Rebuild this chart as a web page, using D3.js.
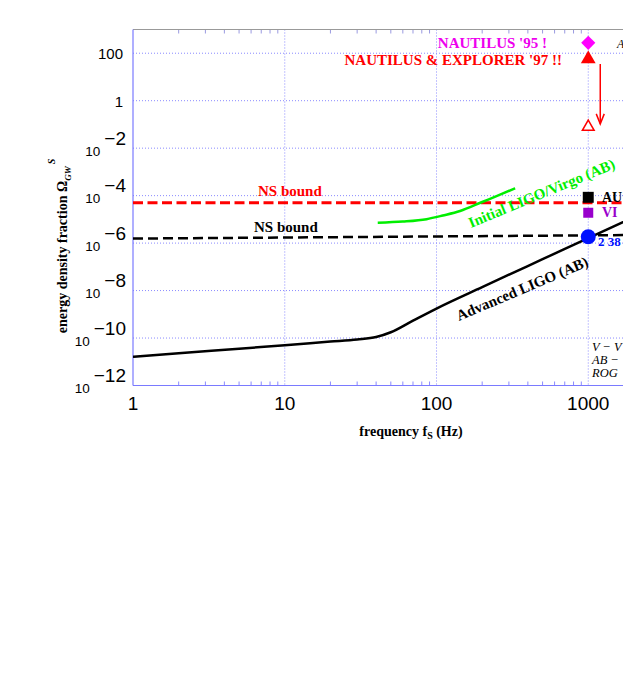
<!DOCTYPE html>
<html><head><meta charset="utf-8">
<script src="https://cdn.jsdelivr.net/npm/d3@7"></script>
<style>body{margin:0;background:#fff;overflow:hidden}svg{display:block}</style>
</head><body><svg id="c" width="623" height="692"></svg>
<script>
// ---- data ----
const xTicks = [1, 10, 100, 1000];
const xTickLabels = ["1", "10", "100", "1000"];
const xGrid = [10, 100, 1000, 10000];
const xMinorTicks = [2,3,4,5,6,7,8,9,20,30,40,50,60,70,80,90,200,300,400,500,600,700,800,900,2000,3000,4000,5000,6000,7000,8000,9000];
const yTicks = [1e2, 1, 1e-2, 1e-4, 1e-6, 1e-8, 1e-10, 1e-12];
const yTickBase = ["100", "1", "10", "10", "10", "10", "10", "10"];
const yTickExp = ["", "", "−2", "−4", "−6", "−8", "−10", "−12"];

const advFreq  = [1, 2, 5, 10, 20, 30, 40, 50, 70, 100, 200, 500, 1000, 2000];
const advOmega = [1.62e-11, 2.3e-11, 3.55e-11, 5.0e-11, 7.1e-11, 8.7e-11, 1.1e-10, 1.75e-10, 5.4e-10, 1.75e-9, 1.4e-8, 2.1e-7, 1.62e-6, 1.26e-5];

const iniFreq  = [41, 60, 86, 110, 143, 200, 260, 330];
const iniOmega = [7.2e-6, 8.1e-6, 1.02e-5, 1.45e-5, 2.24e-5, 5.4e-5, 1.07e-4, 2.04e-4];

const nsRedFreq = [1, 10000];
const nsRedOmega = [5.0e-5, 5.0e-5];
const nsBlackFreq = [1, 10000];
const nsBlackOmega = [1.55e-6, 2.35e-6];

const expLabels = ["NAUTILUS '95 !", "NAUTILUS & EXPLORER '97 !!", "", "AU", "VI", "2 38"];
const expFreq  = [1000, 1000, 1000, 1000, 1000, 1000];
const expOmega = [275, 57, 0.079, 8.5e-5, 1.9e-5, 1.86e-6];

const legendLines = ["V − V", "AB −", "ROG"];

// ---- scales ----
const svg = d3.select("#c");
const L = 133, T = 29.5, B = 385.5;
const x = d3.scaleLog().domain([1, 1e4]).range([L, L + 4 * 151.75]);
const y = d3.scaleLog().domain([1e-12, 1e3]).range([B, T]);
const R = x(1e4);

svg.append("rect").attr("width", 623).attr("height", 692).attr("fill", "#fff");

const serif = "'Liberation Serif','Times New Roman',serif";
const sans = "'Liberation Sans',Arial,Helvetica,sans-serif";
const gridCol = "#8a8aff";

// grid
svg.append("g").selectAll("line").data(yTicks.slice(0, -1)).join("line")
  .attr("x1", L).attr("x2", R).attr("y1", d => y(d)).attr("y2", d => y(d))
  .attr("stroke", gridCol).attr("stroke-width", 1).attr("stroke-dasharray", "1,2");
svg.append("g").selectAll("line").data(xGrid).join("line")
  .attr("y1", T).attr("y2", B).attr("x1", d => x(d)).attr("x2", d => x(d))
  .attr("stroke", gridCol).attr("stroke-width", 1).attr("stroke-dasharray", "1,2");

// minor ticks
svg.append("g").selectAll("line").data(xMinorTicks).join("line")
  .attr("x1", d => x(d)).attr("x2", d => x(d)).attr("y1", B).attr("y2", B - 4)
  .attr("stroke", "#8a8aff").attr("stroke-width", 1);
svg.append("g").selectAll("line").data(xMinorTicks).join("line")
  .attr("x1", d => x(d)).attr("x2", d => x(d)).attr("y1", T).attr("y2", T + 4)
  .attr("stroke", "#9a9ae0").attr("stroke-width", 1);

// frame
svg.append("line").attr("x1", L).attr("x2", R).attr("y1", T).attr("y2", T).attr("stroke", "#999").attr("stroke-width", 1.2);
svg.append("line").attr("x1", L).attr("x2", R).attr("y1", B).attr("y2", B).attr("stroke", "#7a7aff").attr("stroke-width", 1.2);
svg.append("line").attr("x1", L).attr("x2", L).attr("y1", T).attr("y2", B).attr("stroke", "#7a7aff").attr("stroke-width", 1.2);

// x tick labels
svg.append("g").selectAll("text").data(xTicks).join("text")
  .attr("x", d => x(d)).attr("y", 410).attr("text-anchor", "middle")
  .attr("font-family", sans).attr("font-size", 19).attr("fill", "#000")
  .text((d, i) => xTickLabels[i]);

// y tick labels
const yl = svg.append("g").selectAll("text").data(yTicks).join("text")
  .attr("text-anchor", "end").attr("font-family", sans).attr("fill", "#000")
  .attr("x", (d, i) => yTickExp[i] ? 126 : 123)
  .attr("y", (d, i) => yTickExp[i] ? y(d) + 7.5 : y(d) + 6)
  .attr("font-size", (d, i) => yTickExp[i] ? 13.5 : 15);
yl.append("tspan").text((d, i) => yTickBase[i]);
yl.filter((d, i) => yTickExp[i] !== "").append("tspan")
  .attr("dy", -11).attr("dx", 4).attr("font-size", 19)
  .text(d => yTickExp[yTicks.indexOf(d)]);

// axis titles
const xt = svg.append("text").attr("x", 411).attr("y", 436).attr("text-anchor", "middle")
  .attr("font-family", serif).attr("font-weight", "bold").attr("font-size", 14).attr("fill", "#000");
xt.append("tspan").text("frequency f");
xt.append("tspan").attr("dy", 3).attr("font-size", 10).text("S");
xt.append("tspan").attr("dy", -3).text(" (Hz)");

const yt = svg.append("text").attr("transform", "translate(67,246) rotate(-90)")
  .attr("text-anchor", "middle")
  .attr("font-family", serif).attr("font-weight", "bold").attr("font-size", 14).attr("fill", "#000");
yt.append("tspan").text("energy density fraction Ω");
yt.append("tspan").attr("dy", 4).attr("font-size", 9).attr("font-style", "italic").text("GW");
yt.append("tspan").attr("dy", -16).attr("dx", 2).attr("font-size", 10).attr("font-style", "italic").text("S");

// clip
svg.append("clipPath").attr("id", "pc").append("rect")
  .attr("x", L).attr("y", T).attr("width", R - L).attr("height", B - T);
const plot = svg.append("g").attr("clip-path", "url(#pc)");

const line = d3.line().x(d => x(d[0])).y(d => y(d[1])).curve(d3.curveMonotoneX);

plot.append("path").datum(nsRedFreq.map((f, i) => [f, nsRedOmega[i]]))
  .attr("d", d3.line().x(d => x(d[0])).y(d => y(d[1])))
  .attr("fill", "none").attr("stroke", "#ff0000").attr("stroke-width", 3).attr("stroke-dasharray", "10,4.5");
plot.append("path").datum(nsBlackFreq.map((f, i) => [f, nsBlackOmega[i]]))
  .attr("d", d3.line().x(d => x(d[0])).y(d => y(d[1])))
  .attr("fill", "none").attr("stroke", "#000").attr("stroke-width", 2.5).attr("stroke-dasharray", "10,5");
plot.append("path").datum(advFreq.map((f, i) => [f, advOmega[i]]))
  .attr("d", line).attr("fill", "none").attr("stroke", "#000").attr("stroke-width", 2.5);
plot.append("path").datum(iniFreq.map((f, i) => [f, iniOmega[i]]))
  .attr("d", line).attr("fill", "none").attr("stroke", "#00ee00").attr("stroke-width", 2.5);

// curve labels
const bold = (sel) => sel.attr("font-family", serif).attr("font-weight", "bold").attr("font-size", 15);
bold(svg.append("text")).attr("x", 258).attr("y", 196).attr("fill", "#ff0000").text("NS bound");
bold(svg.append("text")).attr("x", 254).attr("y", 232).attr("fill", "#000").text("NS bound");
bold(svg.append("text")).attr("transform", "translate(459,321) rotate(-23)").attr("fill", "#000").text("Advanced LIGO (AB)");
bold(svg.append("text")).attr("transform", "translate(471,228) rotate(-22.5)").attr("fill", "#00ee00").text("Initial LIGO/Virgo (AB)");

// markers
const mx = x(expFreq[0]);
svg.append("path").attr("d", d3.symbol(d3.symbolSquare, 100)())
  .attr("transform", `translate(${x(expFreq[0])},${y(expOmega[0])}) rotate(45)`).attr("fill", "#ff00ff");
svg.append("path").attr("d", d3.symbol(d3.symbolTriangle, 95)())
  .attr("transform", `translate(${x(expFreq[1])},${y(expOmega[1])})`).attr("fill", "#ff0000");
svg.append("path").attr("d", d3.symbol(d3.symbolTriangle, 60)())
  .attr("transform", `translate(${x(expFreq[2])},${y(expOmega[2])})`).attr("fill", "#fff")
  .attr("stroke", "#ff0000").attr("stroke-width", 1.5);
svg.append("path").attr("d", d3.symbol(d3.symbolSquare, 120)())
  .attr("transform", `translate(${x(expFreq[3])},${y(expOmega[3])})`).attr("fill", "#000");
svg.append("path").attr("d", d3.symbol(d3.symbolSquare, 100)())
  .attr("transform", `translate(${x(expFreq[4])},${y(expOmega[4])})`).attr("fill", "#9900cc");
svg.append("circle").attr("cx", x(expFreq[5])).attr("cy", y(expOmega[5])).attr("r", 7.5).attr("fill", "#0011ff");

// arrow from measured to projected
const ax = mx + 12, ay1 = y(expOmega[1]) + 5, ay2 = y(expOmega[2]) - 3;
svg.append("line").attr("x1", ax).attr("x2", ax).attr("y1", ay1).attr("y2", ay2).attr("stroke", "#ff0000").attr("stroke-width", 1.5);
svg.append("path").attr("d", `M${ax - 4},${ay2 - 10}L${ax},${ay2}L${ax + 4},${ay2 - 10}`)
  .attr("fill", "none").attr("stroke", "#ff0000").attr("stroke-width", 1.5);

// experiment labels
bold(svg.append("text")).attr("x", 547).attr("y", 48).attr("text-anchor", "end").attr("fill", "#ee00ee").text(expLabels[0]);
bold(svg.append("text")).attr("x", 562).attr("y", 65).attr("text-anchor", "end").attr("fill", "#ff0000").text(expLabels[1]);
bold(svg.append("text")).attr("x", 602).attr("y", 202).attr("font-size", 14).attr("fill", "#000").text(expLabels[3]);
bold(svg.append("text")).attr("x", 602).attr("y", 217).attr("font-size", 14).attr("fill", "#9900cc").text(expLabels[4]);
bold(svg.append("text")).attr("x", 598).attr("y", 246).attr("font-size", 13).attr("fill", "#0011ff").text(expLabels[5]);
svg.append("text").attr("x", 617).attr("y", 48).attr("font-family", serif).attr("font-style", "italic").attr("font-size", 12).text("A");

// bottom-right legend
svg.append("g").selectAll("text").data(legendLines).join("text")
  .attr("x", 592).attr("y", (d, i) => 351 + i * 13)
  .attr("font-family", serif).attr("font-style", "italic").attr("font-size", 12.5).attr("fill", "#000")
  .text(d => d);
</script></body></html>
